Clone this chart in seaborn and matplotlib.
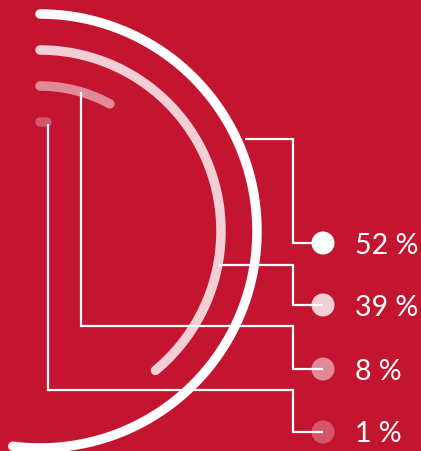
import numpy as np
import matplotlib
matplotlib.use("Agg")
import matplotlib.pyplot as plt
import seaborn as sns

# Shares shown as concentric arcs (percent of a full circle)
labels = ["52 %", "39 %", "8 %", "1 %"]
shares = [52, 39, 8, 1]
alphas = [1.0, 0.8, 0.5, 0.28]

BG = "#C41530"

sns.set_theme(style="white")
plt.rcParams["font.family"] = ["Lato", "DejaVu Sans"]

W, H = 421, 451
fig = plt.figure(figsize=(W / 100, H / 100), dpi=100, facecolor=BG)
ax = fig.add_axes([0, 0, 1, 1])
ax.set_facecolor(BG)
ax.set_xlim(0, W)
ax.set_ylim(H, 0)
ax.axis("off")

# arc geometry (pixel space)
cx, cy = 40, 231
radii = [217, 181, 145, 109]
arc_lw = 9.5 * 0.72

# legend layout
dot_x = 323
dot_y = [243, 305, 369, 432]
elbow_x = 293

# leader lines: start point on each arc, then elbow to the dot
leaders = [
    [(245, 139), (elbow_x, 139), (elbow_x, dot_y[0]), (dot_x, dot_y[0])],
    [(219, 265), (elbow_x, 265), (elbow_x, dot_y[1]), (dot_x, dot_y[1])],
    [(81, 92), (81, 326), (elbow_x, 326), (elbow_x, dot_y[2]), (dot_x, dot_y[2])],
    [(48, 124), (48, 390), (elbow_x, 390), (elbow_x, dot_y[3]), (dot_x, dot_y[3])],
]
for pts in leaders:
    xs, ys = zip(*pts)
    ax.plot(xs, ys, color="white", lw=1.6, solid_capstyle="butt",
            solid_joinstyle="miter", zorder=1)

for share, r, a in zip(shares, radii, alphas):
    theta = np.radians(np.linspace(0, share / 100 * 360, 400))
    x = cx + r * np.sin(theta)
    y = cy - r * np.cos(theta)
    sns.lineplot(x=x, y=y, sort=False, estimator=None, ax=ax, color="white",
                 alpha=a, linewidth=arc_lw, solid_capstyle="round", zorder=2)

sns.scatterplot(x=[dot_x] * len(dot_y), y=dot_y, ax=ax, s=(23 * 0.72) ** 2,
                color="white", alpha=None, linewidth=0, zorder=3,
                legend=False)
# per-dot transparency
coll = ax.collections[-1]
fc = np.array([[1, 1, 1, a] for a in alphas])
coll.set_facecolors(fc)

for lab, yv in zip(labels, dot_y):
    ax.text(355, yv, lab, color="white", fontsize=20.5, fontweight="normal",
            ha="left", va="center_baseline", zorder=4)

fig.savefig("out.png", dpi=100, facecolor=BG)
